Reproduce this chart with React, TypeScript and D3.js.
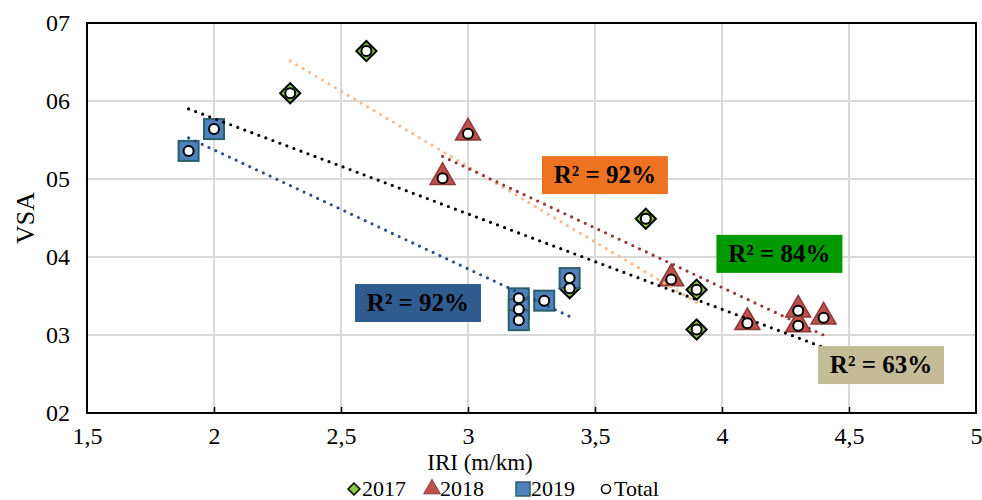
import { useRef, useEffect } from "react";
import * as d3 from "d3";

const W = 982;
const H = 500;
const margin = { top: 23, right: 6, bottom: 87, left: 87 };

// values (IRI in m/km, VSA)
const iri2017 = [2.3, 2.6, 3.7, 3.9, 3.9, 3.4];
const vsa2017 = [6.1, 6.64, 4.49, 3.58, 3.07, 3.6];
const iri2018 = [2.9, 3.0, 3.8, 4.1, 4.3, 4.3, 4.4];
const vsa2018 = [5.01, 5.58, 3.71, 3.15, 3.31, 3.12, 3.22];
const iri2019 = [1.9, 2.0, 3.2, 3.2, 3.2, 3.3, 3.4];
const vsa2019 = [5.36, 5.64, 3.47, 3.33, 3.19, 3.44, 3.73];

const xTicks = [1.5, 2, 2.5, 3, 3.5, 4, 4.5, 5];
const yTicks = [2, 3, 4, 5, 6, 7];

const rLabels = ["R² = 92%", "R² = 84%", "R² = 92%", "R² = 63%"];
const rLabelX = [3.539, 4.226, 2.803, 4.626];
const rLabelY = [5.05, 4.04, 3.41, 2.615];
const rLabelFill = ["#ED7323", "#009A00", "#2F5B8E", "#C4BC96"];

const legendNames = ["2017", "2018", "2019", "Total"];

const font = "'Liberation Serif', 'Times New Roman', serif";

type Pt = [number, number];
const zip = (xs: number[], ys: number[]): Pt[] => xs.map((x, i) => [x, ys[i]]);

function fit(pts: Pt[]) {
  const mx = d3.mean(pts, (p) => p[0])!;
  const my = d3.mean(pts, (p) => p[1])!;
  const sxy = d3.sum(pts, (p) => (p[0] - mx) * (p[1] - my));
  const sxx = d3.sum(pts, (p) => (p[0] - mx) ** 2);
  const b = sxy / sxx;
  const [x0, x1] = d3.extent(pts, (p) => p[0]) as [number, number];
  return [
    [x0, my + b * (x0 - mx)],
    [x1, my + b * (x1 - mx)],
  ] as Pt[];
}

export default function App() {
  const ref = useRef<SVGSVGElement>(null);

  useEffect(() => {
    const svg = d3.select(ref.current);
    svg.selectAll("*").remove();
    const iw = W - margin.left - margin.right;
    const ih = H - margin.top - margin.bottom;

    const x = d3.scaleLinear().domain([1.5, 5]).range([0, iw]);
    const y = d3.scaleLinear().domain([2, 7]).range([ih, 0]);

    const g = svg.append("g").attr("transform", `translate(${margin.left},${margin.top})`);

    // grid
    g.append("g")
      .selectAll("line")
      .data(xTicks.slice(1, -1))
      .join("line")
      .attr("x1", (d) => x(d))
      .attr("x2", (d) => x(d))
      .attr("y1", 0)
      .attr("y2", ih)
      .attr("stroke", "#d9d9d9")
      .attr("stroke-width", 2);
    g.append("g")
      .selectAll("line")
      .data(yTicks.slice(1, -1))
      .join("line")
      .attr("x1", 0)
      .attr("x2", iw)
      .attr("y1", (d) => y(d))
      .attr("y2", (d) => y(d))
      .attr("stroke", "#d9d9d9")
      .attr("stroke-width", 2);

    // frame
    g.append("rect")
      .attr("width", iw)
      .attr("height", ih)
      .attr("fill", "none")
      .attr("stroke", "#000")
      .attr("stroke-width", 2);

    // axes
    const xAxis = g
      .append("g")
      .attr("transform", `translate(0,${ih})`)
      .call(
        d3.axisBottom(x).tickValues(xTicks).tickSize(-6).tickPadding(14)
          .tickFormat((d) => String(d).replace(".", ","))
      );
    const yAxis = g
      .append("g")
      .call(
        d3.axisLeft(y).tickValues(yTicks).tickSize(0).tickPadding(17)
          .tickFormat((d) => "0" + d)
      );
    [xAxis, yAxis].forEach((a) => {
      a.select(".domain").remove();
      a.selectAll("line").attr("stroke", "#000").attr("stroke-width", 1.5);
      a.selectAll("text")
        .attr("font-family", font)
        .attr("font-size", 24)
        .attr("fill", "#000");
    });
    xAxis.selectAll("line").filter((d) => d === 1.5 || d === 5).remove();

    // axis titles
    svg.append("text")
      .attr("x", 480)
      .attr("y", 470)
      .attr("text-anchor", "middle")
      .attr("font-family", font)
      .attr("font-size", 23)
      .text("IRI (m/km)");
    svg.append("text")
      .attr("transform", `translate(34,${margin.top + ih / 2}) rotate(-90)`)
      .attr("text-anchor", "middle")
      .attr("font-family", font)
      .attr("font-size", 26)
      .text("VSA");

    const s2017 = zip(iri2017, vsa2017);
    const s2018 = zip(iri2018, vsa2018);
    const s2019 = zip(iri2019, vsa2019);
    const all = [...s2017, ...s2018, ...s2019];

    const line = d3.line<Pt>().x((p) => x(p[0])).y((p) => y(p[1]));

    // markers
    const diamond = d3.symbol(d3.symbolDiamond2, 260)();
    const triangle = d3.symbol(d3.symbolTriangle, 270)();

    g.append("g")
      .selectAll("path")
      .data(s2017)
      .join("path")
      .attr("d", diamond)
      .attr("transform", (p) => `translate(${x(p[0])},${y(p[1])})`)
      .attr("fill", "#8cc63f")
      .attr("stroke", "#000")
      .attr("stroke-width", 2);
    g.append("g")
      .selectAll("path")
      .data(s2018)
      .join("path")
      .attr("d", triangle)
      .attr("transform", (p) => `translate(${x(p[0])},${y(p[1]) - 1})`)
      .attr("fill", "#c0504d")
      .attr("stroke", "#8c3836")
      .attr("stroke-width", 1.5);
    g.append("g")
      .selectAll("rect")
      .data(s2019)
      .join("rect")
      .attr("x", (p) => x(p[0]) - 10)
      .attr("y", (p) => y(p[1]) - 10)
      .attr("width", 20)
      .attr("height", 20)
      .attr("fill", "#4f81bd")
      .attr("stroke", "#2b5f6b")
      .attr("stroke-width", 2);

    // trend lines
    const trends: [Pt[], string][] = [
      [s2019, "#2f4f7f"],
      [s2017, "#f7b98a"],
      [s2018, "#953735"],
      [all, "#000"],
    ];
    trends.forEach(([pts, c]) => {
      g.append("path")
        .attr("d", line(fit(pts)))
        .attr("fill", "none")
        .attr("stroke", c)
        .attr("stroke-width", 3.2)
        .attr("stroke-linecap", "round")
        .attr("stroke-dasharray", "0 7.5");
    });

    // total markers
    g.append("g")
      .selectAll("circle")
      .data(all)
      .join("circle")
      .attr("cx", (p) => x(p[0]))
      .attr("cy", (p) => y(p[1]))
      .attr("r", 5)
      .attr("fill", "#fff")
      .attr("stroke", "#000")
      .attr("stroke-width", 2);

    // R² labels
    rLabels.forEach((t, i) => {
      const lg = g.append("g")
        .attr("transform", `translate(${x(rLabelX[i])},${y(rLabelY[i])})`);
      lg.append("rect")
        .attr("x", -63)
        .attr("y", -19)
        .attr("width", 126)
        .attr("height", 38)
        .attr("fill", rLabelFill[i]);
      lg.append("text")
        .attr("text-anchor", "middle")
        .attr("y", 8)
        .attr("font-family", font)
        .attr("font-weight", "bold")
        .attr("font-size", 25)
        .attr("fill", "#000")
        .text(t);
    });

    // legend
    const lx = [354, 432, 523, 606];
    const leg = svg.append("g").attr("transform", "translate(0,489)");
    leg.append("path")
      .attr("d", d3.symbol(d3.symbolDiamond2, 90)())
      .attr("transform", `translate(${lx[0]},0)`)
      .attr("fill", "#8cc63f")
      .attr("stroke", "#000")
      .attr("stroke-width", 1.5);
    leg.append("path")
      .attr("d", d3.symbol(d3.symbolTriangle, 120)())
      .attr("transform", `translate(${lx[1]},0)`)
      .attr("fill", "#c0504d")
      .attr("stroke", "#8c3836")
      .attr("stroke-width", 1);
    leg.append("rect")
      .attr("x", lx[2] - 7)
      .attr("y", -7)
      .attr("width", 14)
      .attr("height", 14)
      .attr("fill", "#4f81bd")
      .attr("stroke", "#2b5f6b")
      .attr("stroke-width", 1.5);
    leg.append("circle")
      .attr("cx", lx[3])
      .attr("cy", 0)
      .attr("r", 4.5)
      .attr("fill", "#fff")
      .attr("stroke", "#000")
      .attr("stroke-width", 1.5);
    leg.selectAll("text.lab")
      .data(legendNames)
      .join("text")
      .attr("class", "lab")
      .attr("x", (_, i) => lx[i] + 8)
      .attr("y", 7)
      .attr("font-family", font)
      .attr("font-size", 22)
      .text((d) => d);
  }, []);

  return (
    <svg
      ref={ref}
      width={W}
      height={H}
      style={{ position: "absolute", left: 0, top: 0, background: "#fff" }}
    />
  );
}
